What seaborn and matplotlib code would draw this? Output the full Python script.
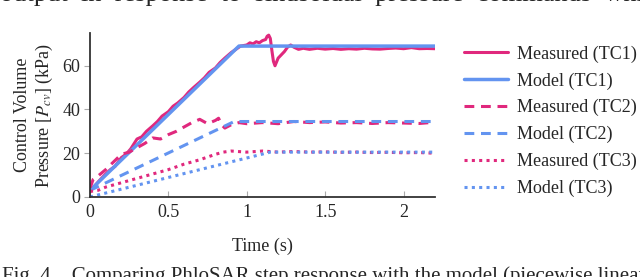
import numpy as np
import matplotlib
matplotlib.use("Agg")
import matplotlib.pyplot as plt
import seaborn as sns

t_meas1 = [0, 0.03, 0.06, 0.1, 0.13, 0.16, 0.2, 0.23, 0.26, 0.3, 0.33, 0.36, 0.4, 0.43, 0.46,
           0.5, 0.53, 0.56, 0.6, 0.63, 0.66, 0.7, 0.73, 0.76, 0.8, 0.83, 0.86, 0.9, 0.93, 0.96,
           1.0, 1.02, 1.04, 1.06, 1.08, 1.1, 1.12, 1.13, 1.14, 1.15, 1.16, 1.17, 1.18, 1.2, 1.22,
           1.24, 1.26, 1.28, 1.3, 1.33, 1.36, 1.4, 1.45, 1.5, 1.55, 1.6, 1.65, 1.7, 1.75, 1.8,
           1.85, 1.9, 1.95, 2.0, 2.05, 2.1, 2.15, 2.2]
p_meas1 = [2.5, 5.0, 7.5, 10.5, 12.5, 14.0, 18.0, 19.5, 22.0, 26.5, 27.5, 30.0, 32.5, 34.5, 37.0,
           39.0, 41.5, 43.0, 45.5, 48.0, 50.0, 52.5, 54.5, 57.0, 59.0, 61.5, 63.5, 66.0, 67.5, 69.0,
           69.5, 70.5, 70.0, 71.0, 70.5, 71.5, 72.0, 73.5, 74.0, 72.5, 67.0, 62.0, 60.0, 63.5, 65.0,
           66.5, 68.5, 69.5, 68.5, 67.5, 68.0, 67.5, 68.0, 67.6, 67.9, 67.5, 67.8, 67.6, 68.0, 67.7,
           67.6, 67.9, 68.1, 67.8, 68.3, 67.8, 67.9, 67.8]

t_meas2 = [0, 0.02, 0.05, 0.1, 0.15, 0.2, 0.25, 0.3, 0.35, 0.4, 0.45, 0.5, 0.55, 0.6, 0.65, 0.7,
           0.75, 0.8, 0.82, 0.84, 0.86, 0.9, 0.95, 1.0, 1.1, 1.2, 1.3, 1.4, 1.5, 1.6, 1.7, 1.8,
           1.9, 2.0, 2.1, 2.2]
p_meas2 = [4.0, 8.0, 9.5, 12.5, 16.0, 19.5, 20.5, 22.5, 24.5, 27.0, 26.5, 28.5, 30.0, 32.0, 34.0, 35.5,
           33.5, 35.0, 36.0, 33.0, 31.5, 33.0, 34.0, 33.5, 34.0, 33.5, 34.5, 34.0, 34.3, 33.8, 34.0, 33.6,
           34.0, 33.8, 33.6, 34.2]

t_meas3 = [0, 0.05, 0.1, 0.2, 0.3, 0.4, 0.5, 0.6, 0.7, 0.8, 0.85, 0.9, 1.0, 1.1, 1.2, 1.3, 1.4,
           1.5, 1.6, 1.7, 1.8, 1.9, 2.0, 2.1, 2.2]
p_meas3 = [2.5, 3.0, 4.5, 6.5, 8.5, 10.5, 12.5, 15.0, 17.0, 19.5, 20.5, 21.0, 20.5, 21.0, 20.5, 20.8, 20.5,
           20.6, 20.4, 20.5, 20.3, 20.4, 20.2, 20.3, 20.0]

# Piecewise linear model
t_model1 = [0, 0.95, 2.2]
p_model1 = [3.0, 69.0, 69.0]
t_model2 = [0, 0.92, 2.2]
p_model2 = [3.0, 34.5, 34.5]
t_model3 = [0, 1.15, 2.2]
p_model3 = [0.0, 20.5, 20.5]

pink = "#E0287D"
blue = "#6394F0"

sns.set_style("ticks")
plt.rcParams['font.family'] = ['Liberation Serif', 'DejaVu Serif']
plt.rcParams['mathtext.fontset'] = 'stix'

fs = 13
fig = plt.figure(figsize=(6.4, 2.77), dpi=100)
ax = fig.add_axes([0.1406, 0.289, 0.539, 0.592])

lw = 2.2
sns.lineplot(x=t_meas1, y=p_meas1, ax=ax, color=pink, lw=lw, label="Measured (TC1)")
sns.lineplot(x=t_model1, y=p_model1, ax=ax, color=blue, lw=lw + 0.3, label="Model (TC1)")
sns.lineplot(x=t_meas2, y=p_meas2, ax=ax, color=pink, lw=lw, label="Measured (TC2)")
sns.lineplot(x=t_model2, y=p_model2, ax=ax, color=blue, lw=lw, label="Model (TC2)")
sns.lineplot(x=t_meas3, y=p_meas3, ax=ax, color=pink, lw=lw, label="Measured (TC3)")
sns.lineplot(x=t_model3, y=p_model3, ax=ax, color=blue, lw=lw, label="Model (TC3)")

lines = ax.get_lines()
for ln in lines[2:4]:
    ln.set_dashes([3.2, 2.2])
for ln in lines[4:6]:
    ln.set_dashes([1.0, 1.4])

ax.set_xlim(0, 2.2)
ax.set_ylim(0, 75)
ax.set_xticks([0, 0.5, 1, 1.5, 2])
ax.set_xticklabels(["0", "0.5", "1", "1.5", "2"])
ax.set_yticks([0, 20, 40, 60])
ax.tick_params(axis='x', direction='in', color='#aaaaaa', length=4, width=0.8, labelsize=fs, pad=5)
ax.tick_params(axis='y', direction='out', color='#aaaaaa', length=4, width=0.8, labelsize=fs, pad=3)
for s in ['top', 'right']:
    ax.spines[s].set_visible(False)
for s in ['left', 'bottom']:
    ax.spines[s].set_color('#333333')
    ax.spines[s].set_linewidth(1.3)

ax.set_xlabel("Time (s)", fontsize=fs, labelpad=12)
ax.set_ylabel("Control Volume\nPressure [$P_{cv}$] (kPa)", fontsize=fs, labelpad=5, linespacing=1.25)

handles, labels = ax.get_legend_handles_labels()
ax.legend_.remove()
fig.legend(handles, labels, loc="upper left", bbox_to_anchor=(0.7, 0.895), frameon=False,
           fontsize=fs, handlelength=2.4, labelspacing=0.53, handletextpad=0.5)

# surrounding paper text, cut off at the image edges
fig.text(0.0, 0.995, "output  in  response  to  sinusoidal  pressure  commands  whi", fontsize=19,
         ha='left', va='baseline')
fig.text(0.003, -0.0144, "Fig. 4.   Comparing PhloSAR step response with the model (piecewise linear",
         fontsize=15, ha='left', va='baseline')

fig.savefig("out.png", dpi=100)
